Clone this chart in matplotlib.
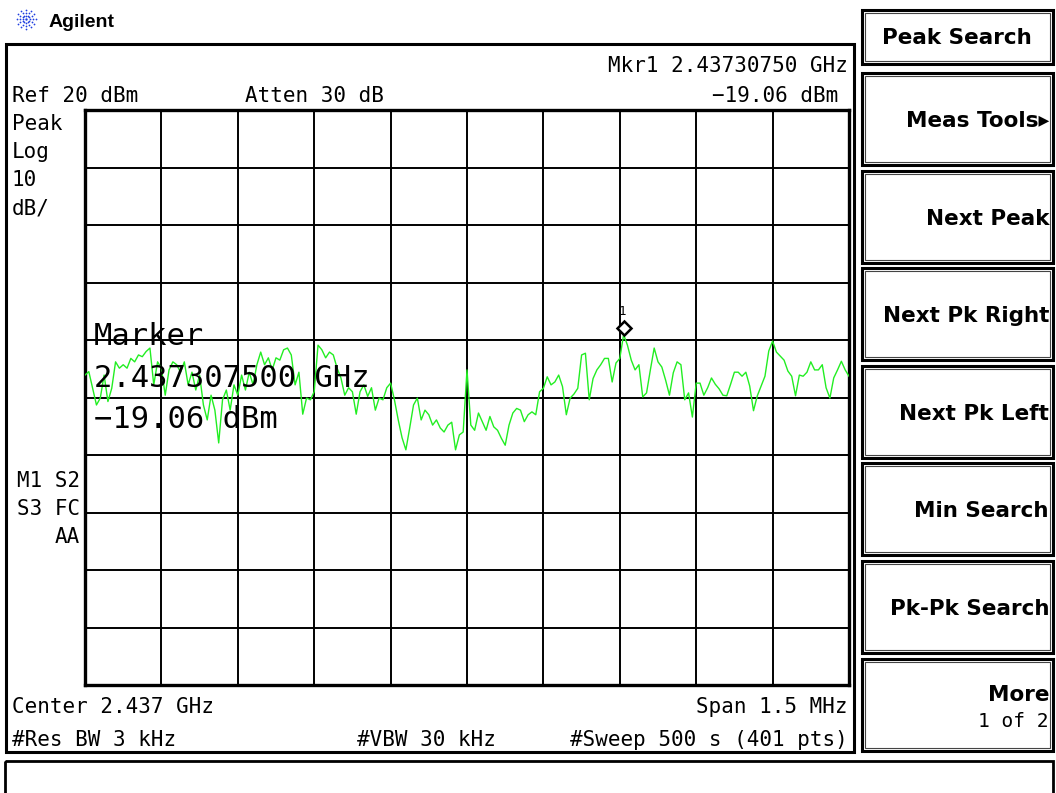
import numpy as np
import matplotlib
matplotlib.use("Agg")
import matplotlib.pyplot as plt
from matplotlib.patches import Rectangle
from matplotlib.transforms import offset_copy

W, H = 1056, 793

# instrument state shown on screen
CENTER_GHZ = 2.437
SPAN_MHZ = 1.5
REF_DBM = 20
DB_PER_DIV = 10
MARKER_GHZ = 2.4373075
MARKER_DBM = -19.06

# sweep, 201 samples across the span (dBm)
trace_dbm = [
    -26.1, -25.5, -28.4, -31.3, -30.1, -26.1, -30.7, -28.4, -23.8, -24.9,
    -24.3, -24.9, -23.2, -23.8, -22.6, -22.9, -22.0, -21.4, -27.8, -23.8,
    -24.9, -29.6, -25.2, -23.8, -24.3, -25.6, -23.8, -27.8, -25.6, -28.7,
    -26.1, -31.3, -33.9, -29.6, -32.2, -37.9, -30.4, -28.7, -32.2, -27.8,
    -29.6, -26.1, -28.7, -25.6, -27.8, -24.3, -22.1, -24.3, -23.1, -25.2,
    -23.1, -23.5, -21.7, -21.4, -22.6, -27.8, -25.6, -32.9, -30.1, -30.4,
    -29.0, -20.9, -21.7, -23.1, -22.1, -22.6, -24.9, -26.6, -29.6, -28.3,
    -29.0, -32.9, -29.0, -27.8, -29.8, -28.3, -32.2, -30.1, -30.4, -28.3,
    -27.5, -30.4, -33.9, -37.0, -39.1, -35.3, -31.3, -30.1, -33.9, -32.2,
    -33.0, -34.8, -33.9, -35.3, -36.0, -34.8, -34.3, -39.1, -36.5, -36.0,
    -25.2, -34.8, -35.7, -32.7, -34.2, -35.7, -33.3, -35.1, -35.7, -37.1,
    -38.3, -34.8, -32.7, -31.9, -32.2, -34.2, -33.0, -32.5, -33.0, -29.0,
    -28.4, -26.4, -27.8, -27.3, -26.1, -28.1, -33.0, -30.1, -29.4, -28.4,
    -22.6, -22.3, -30.4, -26.7, -25.2, -24.3, -23.2, -23.2, -27.3, -24.0,
    -23.2, -19.06, -20.9, -23.5, -25.2, -24.3, -29.9, -29.2, -25.2, -21.4,
    -23.8, -24.7, -27.0, -29.6, -25.7, -23.8, -24.3, -30.4, -29.2, -33.4,
    -27.5, -27.5, -29.6, -28.3, -26.6, -27.7, -28.5, -29.6, -29.7, -27.7,
    -25.6, -25.6, -26.3, -25.6, -28.0, -32.3, -29.7, -28.0, -26.3, -21.9,
    -20.2, -22.1, -22.8, -23.5, -25.4, -26.3, -29.7, -26.1, -26.3, -25.6,
    -23.8, -25.2, -25.2, -24.3, -28.3, -30.1, -26.6, -25.2, -23.7, -25.2,
    -26.3,
]

left_labels = ["Peak", "Log", "10", "dB/"]
annunciators = ["M1 S2", "S3 FC", "AA"]
softkeys = ["Meas Tools\u25b8", "Next Peak", "Next Pk Right", "Next Pk Left",
            "Min Search", "Pk-Pk Search", "More"]

MONO = "DejaVu Sans Mono"
BOLD = "DejaVu Sans"

half_span = SPAN_MHZ / 2000.0
freqs = np.linspace(CENTER_GHZ - half_span, CENTER_GHZ + half_span, len(trace_dbm))

fig = plt.figure(figsize=(W / 100, H / 100), dpi=100)
fig.patch.set_facecolor("white")

# graticule
gx0, gx1, gy0, gy1 = 85, 849, 110, 685
ax = fig.add_axes([gx0 / W, 1 - gy1 / H, (gx1 - gx0) / W, (gy1 - gy0) / H])
ax.set_xlim(freqs[0], freqs[-1])
ax.set_ylim(REF_DBM - 10 * DB_PER_DIV, REF_DBM)
ax.set_xticks(np.linspace(freqs[0], freqs[-1], 11))
ax.set_yticks(np.linspace(REF_DBM - 10 * DB_PER_DIV, REF_DBM, 11))
ax.tick_params(length=0, labelbottom=False, labelleft=False)
ax.grid(color="black", linewidth=1.4)
ax.set_axisbelow(True)
for sp in ax.spines.values():
    sp.set_linewidth(2.4)
    sp.set_color("black")

ax.plot(freqs, trace_dbm, color="#22ee22", linewidth=1.0, zorder=3)

up = offset_copy(ax.transData, fig=fig, x=0, y=7, units="dots")
ax.plot(MARKER_GHZ, MARKER_DBM, marker="D", ms=7.5, mfc="white", mec="black",
        mew=1.8, transform=up, zorder=5, clip_on=False)
ax.annotate("1", xy=(MARKER_GHZ, MARKER_DBM), xytext=(-1, 17), textcoords="offset pixels",
            ha="center", va="bottom", fontsize=9, family=MONO, zorder=5)

# overlay in screen pixels
ov = fig.add_axes([0, 0, 1, 1], facecolor="none")
ov.set_xlim(0, W)
ov.set_ylim(H, 0)
ov.axis("off")


def txt(x, y, s, size=15, ha="left", family=MONO, **kw):
    ov.text(x, y, s, fontsize=size, ha=ha, va="baseline", family=family, **kw)


def box(x0, y0, x1, y1, lw=2.2, double=False):
    ov.add_patch(Rectangle((x0, y0), x1 - x0, y1 - y0, fill=False, ec="black", lw=lw))
    if double:
        ov.add_patch(Rectangle((x0 + 3, y0 + 3), x1 - x0 - 6, y1 - y0 - 6,
                               fill=False, ec="#444444", lw=0.8))


# Agilent logo
for ang in np.deg2rad(np.arange(0, 360, 30)):
    r = np.array([3.5, 6.5, 9.5])
    ov.scatter(26 + r * np.cos(ang), 19 + r * np.sin(ang), s=1.6, color="#1f3fe0", lw=0)
ov.scatter([26], [19], s=3, color="#1f3fe0", lw=0)
txt(49, 27, "Agilent", size=14, family="Liberation Sans", fontweight="bold")

# main display frame and status line
box(6, 44, 854, 752, lw=2.2)
box(5, 761, 1053, 800, lw=2.0)

# header / annotation text
txt(848, 72, f"Mkr1 {MARKER_GHZ:.8f} GHz", ha="right")
txt(838, 102, f"\u2212{abs(MARKER_DBM):.2f} dBm", ha="right")
txt(12, 102, f"Ref {REF_DBM} dBm")
txt(245, 102, "Atten 30 dB")
for i, s in enumerate(left_labels):
    txt(12, 130 + 28 * i, s)
for i, s in enumerate(annunciators):
    txt(80, 487 + 28 * i, s, ha="right")
txt(12, 713, f"Center {CENTER_GHZ} GHz")
txt(848, 713, f"Span {SPAN_MHZ} MHz", ha="right")
txt(12, 746, "#Res BW 3 kHz")
txt(357, 746, "#VBW 30 kHz")
txt(848, 746, "#Sweep 500 s (401 pts)", ha="right")

# marker readout drawn over the graticule
txt(94, 345, "Marker", size=22)
txt(94, 387, f"{MARKER_GHZ:.9f} GHz", size=22)
txt(94, 428, f"\u2212{abs(MARKER_DBM):.2f} dBm", size=22)

# softkey menu
box(862, 10, 1053, 64, double=True)
txt(957, 44, "Peak Search", size=15.5, ha="center", family=BOLD, fontweight="bold")
for k, label in enumerate(softkeys):
    top = 73 + 97.6 * k
    box(862, top, 1053, top + 92, double=True)
    if label == "More":
        txt(1049, top + 42, label, size=15.5, ha="right", family=BOLD, fontweight="bold")
        txt(1049, top + 68, "1 of 2", size=14, ha="right")
    else:
        txt(1049, top + 54, label, size=15.5, ha="right", family=BOLD, fontweight="bold")

fig.savefig("out.png", dpi=100)
